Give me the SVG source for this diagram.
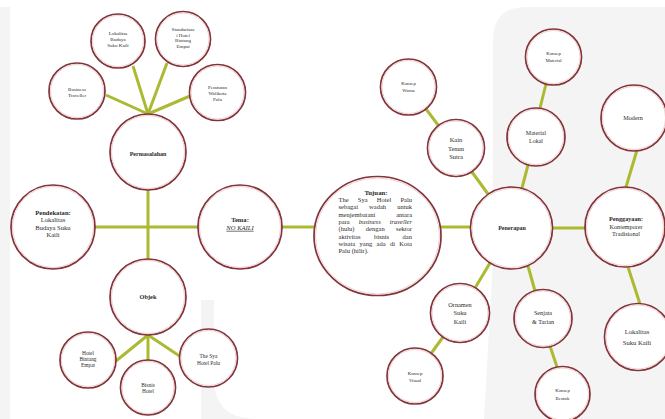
<svg xmlns="http://www.w3.org/2000/svg" width="665" height="419" viewBox="0 0 665 419">
<style>
.o{fill:#fff;stroke:#82343b;stroke-width:1.7}
.i{fill:none;stroke:#efd0d0;stroke-width:1}
.t{font-family:"Liberation Serif","Times New Roman",serif;fill:#2a2a2a;text-anchor:middle}
.p{font-family:"Liberation Serif","Times New Roman",serif;fill:#2a2a2a;font-size:6.5px}
.b{font-weight:bold}
.s{font-size:5px}
.k{font-size:4.8px}
.ln{stroke:#abba30;stroke-width:3;fill:none}
</style>
<rect width="665" height="419" fill="#f4f4f4"/>
<path fill="#fff" d="M0,0 H665 V7 H526 Q493,7 493,40 V260 L484,419 H256 Q214,419 214,378 V300 H201 V419 H10 V7 H0 Z"/>
<g id="connectors" class="ln">
<line x1="148" y1="114" x2="106" y2="95"/>
<line x1="148" y1="114" x2="133" y2="66"/>
<line x1="148" y1="114" x2="167" y2="63"/>
<line x1="148" y1="114" x2="190" y2="96"/>
<line x1="148" y1="190" x2="148" y2="259"/>
<line x1="95" y1="227" x2="198" y2="227"/>
<line x1="148" y1="335" x2="116" y2="361"/>
<line x1="148" y1="335" x2="148" y2="360"/>
<line x1="148" y1="335" x2="181" y2="357"/>
<line x1="282" y1="227" x2="314" y2="227"/>
<line x1="441" y1="227" x2="470" y2="227"/>
<line x1="552" y1="228" x2="586" y2="228"/>
<line x1="426" y1="109" x2="438" y2="125"/>
<line x1="472" y1="172" x2="488" y2="194"/>
<line x1="546" y1="84" x2="540" y2="108"/>
<line x1="528" y1="165" x2="522" y2="188"/>
<line x1="637" y1="150" x2="626" y2="187"/>
<line x1="628" y1="267" x2="640" y2="304"/>
<line x1="490" y1="263" x2="475" y2="288"/>
<line x1="443" y1="337" x2="430" y2="355"/>
<line x1="528" y1="266" x2="535" y2="291"/>
<line x1="550" y1="346" x2="557" y2="367"/>
</g>
<g id="business-traveller"><circle class="o" cx="77" cy="91" r="28"/><circle class="i" cx="77" cy="91" r="26.5"/>
<text class="t s" x="77" y="90.9">Business<tspan x="77" dy="5.8">Traveller</tspan></text></g>
<g id="lokalitas-budaya"><circle class="o" cx="118" cy="41" r="27"/><circle class="i" cx="118" cy="41" r="25.5"/>
<text class="t s" x="118" y="35">Lokalitas<tspan x="118" dy="6">Budaya</tspan><tspan x="118" dy="6">Suku Kaili</tspan></text></g>
<g id="standarisasi"><circle class="o" cx="183" cy="39" r="27.5"/><circle class="i" cx="183" cy="39" r="26"/>
<text class="t s" x="183" y="31">Standarisas<tspan x="183" dy="5.7">i Hotel</tspan><tspan x="183" dy="5.7">Bintang</tspan><tspan x="183" dy="5.7">Empat</tspan></text></g>
<g id="peraturan"><circle class="o" cx="217.5" cy="92.5" r="28"/><circle class="i" cx="217.5" cy="92.5" r="26.5"/>
<text class="t s" x="217.5" y="89">Peraturan<tspan x="217.5" dy="5.8">Walikota</tspan><tspan x="217.5" dy="5.8">Palu</tspan></text></g>
<g id="permasalahan"><circle class="o" cx="148" cy="152" r="38"/><circle class="i" cx="148" cy="152" r="36.5"/>
<text class="t b" x="148" y="156" font-size="6">Permasalahan</text></g>
<g id="pendekatan"><circle class="o" cx="53" cy="227" r="42"/><circle class="i" cx="53" cy="227" r="40.5"/>
<text class="t" x="53" y="214.7" font-size="6.6"><tspan class="b">Pendekatan:</tspan><tspan x="53" dy="7.5">Lokalitas</tspan><tspan x="53" dy="7.5">Budaya Suku</tspan><tspan x="53" dy="7.5">Kaili</tspan></text></g>
<g id="tema"><circle class="o" cx="240" cy="227" r="42"/><circle class="i" cx="240" cy="227" r="40.5"/>
<text class="t" x="240" y="222" font-size="6.6"><tspan class="b">Tema:</tspan><tspan x="240" dy="7.8" font-style="italic" text-decoration="underline">NO KAILI</tspan></text></g>
<g id="objek"><circle class="o" cx="148" cy="297" r="38"/><circle class="i" cx="148" cy="297" r="36.5"/>
<text class="t b" x="148" y="299" font-size="6.3">Objek</text></g>
<g id="hotel-bintang-empat"><circle class="o" cx="88" cy="360" r="28"/><circle class="i" cx="88" cy="360" r="26.5"/>
<text class="t" x="88" y="355" font-size="5.4">Hotel<tspan x="88" dy="5.9">Bintang</tspan><tspan x="88" dy="5.9">Empat</tspan></text></g>
<g id="bisnis-hotel"><circle class="o" cx="148" cy="387.5" r="27.5"/><circle class="i" cx="148" cy="387.5" r="26"/>
<text class="t" x="148" y="386.7" font-size="5.4">Bisnis<tspan x="148" dy="6.7">Hotel</tspan></text></g>
<g id="the-sya-hotel-palu"><circle class="o" cx="208.5" cy="358" r="29"/><circle class="i" cx="208.5" cy="358" r="27.5"/>
<text class="t" x="208.5" y="358.4" font-size="5.4">The Sya<tspan x="208.5" dy="6.6">Hotel Palu</tspan></text></g>
<g id="tujuan"><ellipse class="o" cx="377.5" cy="236" rx="63.5" ry="59.5"/><ellipse class="i" cx="377.5" cy="236" rx="62" ry="58"/>
<text class="t b" x="376" y="194.5" font-size="6.8">Tujuan:</text>
<text class="p" x="338.5" y="202" word-spacing="7.59">The Sya Hotel Palu</text>
<text class="p" x="338.5" y="209.3" word-spacing="9.49">sebagai wadah untuk</text>
<text class="p" x="338.5" y="216.6" word-spacing="19.2">menjembatani antara</text>
<text class="p" x="338.5" y="223.9" word-spacing="7.33">para <tspan font-style="italic">business traveller</tspan></text>
<text class="p" x="338.5" y="231.2" word-spacing="9.85">(hulu) dengan sektor</text>
<text class="p" x="338.5" y="238.5" word-spacing="11.8">aktivitas bisnis dan</text>
<text class="p" x="338.5" y="245.8" word-spacing="2.76">wisata yang ada di Kota</text>
<text class="p" x="338.5" y="253.1">Palu (hilir).</text>
</g>
<g id="konsep-warna"><circle class="o" cx="408.5" cy="87" r="28"/><circle class="i" cx="408.5" cy="87" r="26.5"/>
<text class="t k" x="408.5" y="84.8">Konsep<tspan x="408.5" dy="6.7">Warna</tspan></text></g>
<g id="kain-tenun-sutra"><circle class="o" cx="456" cy="148" r="28.5"/><circle class="i" cx="456" cy="148" r="27"/>
<text class="t" x="456" y="142.2" font-size="6.5">Kain<tspan x="456" dy="8.6">Tenun</tspan><tspan x="456" dy="8.6">Sutra</tspan></text></g>
<g id="konsep-material"><circle class="o" cx="553.5" cy="57" r="28"/><circle class="i" cx="553.5" cy="57" r="26.5"/>
<text class="t k" x="553.5" y="54.8">Konsep<tspan x="553.5" dy="6.7">Material</tspan></text></g>
<g id="material-lokal"><circle class="o" cx="536" cy="137" r="29"/><circle class="i" cx="536" cy="137" r="27.5"/>
<text class="t" x="536" y="134.8" font-size="6">Material<tspan x="536" dy="8">Lokal</tspan></text></g>
<g id="modern"><circle class="o" cx="634" cy="118" r="33"/><circle class="i" cx="634" cy="118" r="31.5"/>
<text class="t" x="633" y="120.3" font-size="6.2">Modern</text></g>
<g id="penerapan"><circle class="o" cx="511.5" cy="228" r="41"/><circle class="i" cx="511.5" cy="228" r="39.5"/>
<text class="t b" x="512" y="230.2" font-size="6">Penerapan</text></g>
<g id="penggayaan"><circle class="o" cx="625" cy="227" r="40"/><circle class="i" cx="625" cy="227" r="38.5"/>
<text class="t" x="626" y="221.4" font-size="6.2"><tspan class="b">Penggayaan:</tspan><tspan x="626" dy="7.2">Kontemporer</tspan><tspan x="626" dy="7.2">Tradisional</tspan></text></g>
<g id="lokalitas-suku-kaili"><circle class="o" cx="638" cy="337" r="33.5"/><circle class="i" cx="638" cy="337" r="32"/>
<text class="t" x="637" y="334.1" font-size="6.6">Lokalitas<tspan x="637" dy="10.6">Suku Kaili</tspan></text></g>
<g id="ornamen-suku-kaili"><circle class="o" cx="460" cy="313" r="29.5"/><circle class="i" cx="460" cy="313" r="28"/>
<text class="t" x="460" y="307.1" font-size="6.3">Ornamen<tspan x="460" dy="8.3">Suku</tspan><tspan x="460" dy="8.3">Kaili</tspan></text></g>
<g id="senjata-tarian"><circle class="o" cx="543" cy="318.5" r="29"/><circle class="i" cx="543" cy="318.5" r="27.5"/>
<text class="t" x="543" y="314.9" font-size="6.2">Senjata<tspan x="543" dy="9">&amp; Tarian</tspan></text></g>
<g id="konsep-visual"><circle class="o" cx="415" cy="376" r="28"/><circle class="i" cx="415" cy="376" r="26.5"/>
<text class="t k" x="415" y="374.8">Konsep<tspan x="415" dy="6.7">Visual</tspan></text></g>
<g id="konsep-bentuk"><circle class="o" cx="562.5" cy="394" r="27.5"/><circle class="i" cx="562.5" cy="394" r="26"/>
<text class="t k" x="562.5" y="392.2">Konsep<tspan x="562.5" dy="7.6">Bentuk</tspan></text></g>
</svg>
